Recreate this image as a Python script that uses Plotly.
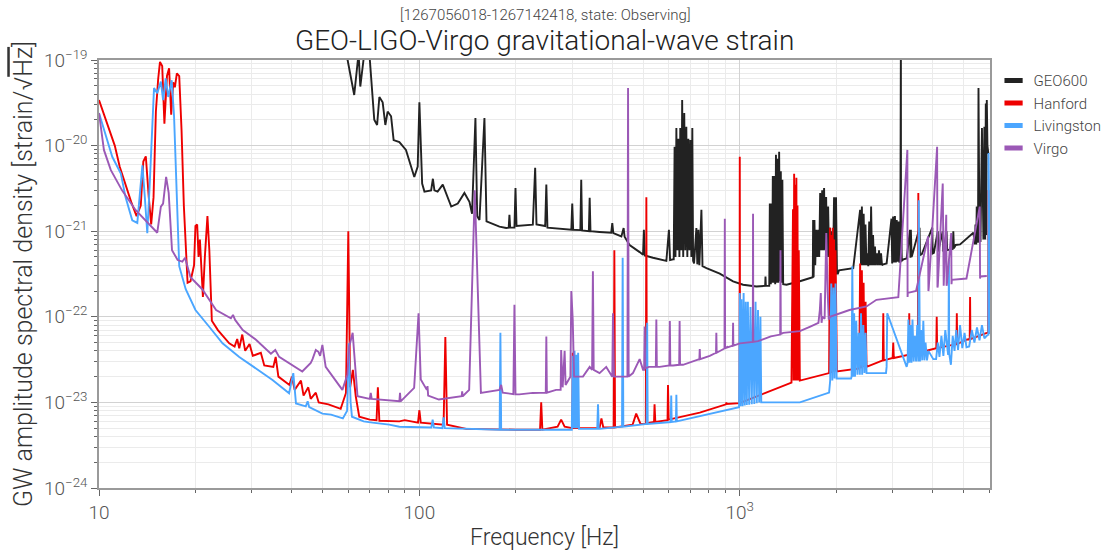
import plotly.graph_objects as go

# ---------------- data ----------------
detectors = ["GEO600", "Hanford", "Livingston", "Virgo"]
colors = ["#222222", "#ee0000", "#4ba6ff", "#9b59b6"]

geo_f = [55, 59.7, 62.6, 64.6, 65.4, 67.3, 69.8, 72.3, 73.8, 75, 76.8, 78.3, 79.6, 81.6, 83.1, 86.6,
         90.8, 94.1, 96.4, 98.8, 100, 102, 103.7, 108.8, 110.2, 111.4, 114, 118.3, 125.7, 131.8, 138.2,
         143.3, 146, 149.6, 151.5, 154, 159.6, 162, 177.8, 186.6, 190, 191, 192, 198, 199.5, 201, 226,
         229.8, 232, 247, 249, 251, 287, 298, 300, 302, 318, 320, 322, 338, 340, 342, 365, 397, 400, 403,
         427, 434, 437, 453, 487, 499, 502, 505, 536, 590, 601, 606, 619,
         622, 626, 630, 634, 639, 643, 648, 652, 657, 661, 666, 671, 676, 681, 686, 691, 696, 701, 706, 711, 715,
         720, 732, 737, 743, 748, 759, 765, 787, 866, 953, 1024, 1127, 1200, 1203, 1206, 1236,
         1241, 1250, 1255, 1262, 1268, 1275, 1282, 1290, 1297, 1305, 1312, 1320, 1327, 1335, 1343, 1350, 1358, 1366,
         1399, 1540, 1690, 1694, 1700, 1710, 1720, 1732, 1745, 1757, 1770, 1782, 1795, 1808, 1820, 1833,
         1846, 1860, 1873, 1887, 1900, 1913, 1927, 1941, 1955, 1969, 1983, 1997, 2011, 2025, 2040,
         2260, 2375, 2390, 2405, 2420, 2436, 2452, 2468, 2485, 2500, 2518, 2535, 2553, 2570, 2588, 2606,
         2624, 2642, 2660, 2680, 2700, 2720, 2740, 2760, 2780, 2805, 2873,
         2975, 2990, 3010, 3030, 3050, 3070, 3090, 3110, 3130, 3150, 3170, 3183, 3186, 3189, 3205, 3225, 3240,
         3318, 3400, 3410, 3420, 3438, 3450, 3640, 3652, 3664, 3700, 3990, 4000, 4018, 4035,
         4150, 4160, 4300, 4315, 4330, 4420, 4440, 4620, 4640, 4660, 4700, 4720, 4870,
         5358, 5420, 5440, 5470, 5490, 5510, 5540, 5560, 5600, 5623, 5640, 5700, 5760, 5800, 5833,
         5860, 5880, 5902, 5930, 5970, 6000, 6040]
geo_asd = [2e-19, 1e-19, 3.9e-20, 1.2e-19, 4.9e-20, 1.2e-19, 1.2e-19, 2.0e-20, 1.74e-20, 3.7e-20, 3.2e-20,
           1.74e-20, 2.5e-20, 2.2e-20, 1.16e-20, 1.1e-20, 8.9e-21, 5.7e-21, 4.3e-21, 5.7e-21, 3.2e-20, 3.6e-21,
           2.9e-21, 3.0e-21, 4.1e-21, 3.0e-21, 2.9e-21, 3.5e-21, 1.94e-21, 2.1e-21, 2.8e-21, 2.2e-21, 1.6e-21,
           2.1e-20, 1.5e-21, 1.35e-21, 2.1e-20, 1.3e-21, 1.13e-21, 1.09e-21, 1.1e-21, 1.55e-21, 1.1e-21,
           1.1e-21, 3.2e-21, 1.15e-21, 1.19e-21, 5.5e-21, 1.2e-21, 1.15e-21, 3.5e-21, 1.1e-21, 1.04e-21,
           1.04e-21, 2.1e-21, 1.04e-21, 1.03e-21, 4.0e-21, 1.02e-21, 1.0e-21, 2.45e-21, 1.0e-21, 9.8e-22,
           9.6e-22, 1.24e-21, 9.5e-22, 8.7e-22, 1.09e-21, 8.6e-22, 6.9e-22, 5.7e-22, 5.3e-22, 1.04e-21,
           5.2e-22, 4.9e-22, 4.5e-22, 1.04e-21, 4.6e-22, 4.7e-22,
           4.7e-22, 9.7e-21, 5e-22, 1.6e-20, 6e-22, 1.2e-20, 5e-22, 1.6e-20, 6e-22, 3.4e-20, 5e-22, 2.4e-20,
           6e-22, 1.66e-20, 5e-22, 1.2e-20, 6e-22, 1.16e-20, 5e-22, 1.6e-20, 4.5e-22,
           4.2e-22, 1.09e-21, 4.1e-22, 1.04e-21, 4e-22, 1.78e-21, 3.9e-22, 3.7e-22, 3.2e-22, 2.6e-22,
           2.37e-22, 2.26e-22, 2.3e-22, 2.95e-22, 2.3e-22, 2.3e-22,
           2.1e-21, 2.4e-22, 2.1e-21, 2.5e-22, 4.4e-21, 2.5e-22, 4.4e-21, 2.4e-22, 7.8e-21, 2.5e-22, 7.0e-21,
           2.5e-22, 8.5e-21, 2.6e-22, 5.0e-21, 2.5e-22, 4.0e-21, 2.4e-22,
           2.37e-22, 2.6e-22, 2.9e-22, 1.35e-21, 2.9e-22, 1.35e-21, 4e-22, 1.04e-21, 5e-22, 1.04e-21, 5e-22,
           2.8e-21, 6e-22, 3.0e-21, 6e-22, 3.2e-21, 6e-22, 2.5e-21, 5e-22, 1.94e-21, 5e-22, 1.1e-21, 5e-22,
           1.0e-21, 4e-22, 2.5e-21, 3.5e-22, 2.5e-21, 3.2e-22, 3.2e-22,
           3.5e-22, 3.7e-22, 1.78e-21, 4e-22, 1.94e-21, 4e-22, 1.6e-21, 4e-22, 1.2e-21, 4e-22, 5.5e-22, 3.9e-22,
           1.3e-21, 4e-22, 1.94e-21, 4e-22, 9e-22, 4e-22, 6.6e-22, 4e-22, 5.5e-22, 4e-22, 6e-22, 4e-22,
           5.5e-22, 4e-22, 4.1e-22,
           4.2e-22, 1.4e-21, 4.2e-22, 1.48e-21, 4.3e-22, 1.5e-21, 4.3e-22, 1.35e-21, 4.4e-22, 1.3e-21, 4.4e-22,
           4.4e-22, 2e-19, 4.4e-22, 1.2e-21, 4.5e-22, 4.6e-22,
           4.7e-22, 4.8e-22, 1.04e-21, 4.9e-22, 1.04e-21, 5e-22, 5.2e-22, 1.1e-21, 5.2e-22, 5.3e-22, 5.4e-22,
           1.1e-21, 5.5e-22, 5.5e-22, 5.6e-22, 1.0e-21, 5.8e-22, 1.0e-21, 5.8e-22, 5.9e-22, 1.0e-21, 6e-22,
           6.2e-22, 1.0e-21, 6.3e-22, 6.6e-22,
           6.9e-22, 7e-22, 9.6e-22, 7e-22, 1.2e-21, 7e-22, 1.94e-21, 7.5e-22, 7.5e-22, 4.7e-20, 7.5e-22,
           1.0e-21, 7.5e-22, 1.6e-20, 8e-22, 1.66e-20, 8e-22, 3.1e-20, 9e-22, 3.4e-20, 1e-20, 8e-21]

han_f = [10.0, 10.4, 10.8, 11.2, 11.6, 12.1, 12.6, 13.1, 13.5, 13.75, 14.0, 14.3, 14.55, 14.8, 15.05,
         15.3, 15.5, 15.75, 16.0, 16.3, 16.55, 16.8, 17.05, 17.25, 17.5, 17.8, 18.1, 18.4, 18.9, 19.3,
         19.8, 20.0, 20.25, 20.45, 20.65, 20.85, 21.1, 21.4, 21.8, 22.1, 22.5, 23.5, 25.5, 26.5, 27.0,
         27.4, 28.0, 28.6, 29.5, 30.2, 32.0, 32.8, 35.0, 35.6, 36.3, 39.3, 40.0, 40.8, 42.2, 42.7, 43.5,
         45.0, 45.8, 47.5, 48.5, 52, 56.8, 59.0, 60.0, 60.8, 62.0, 63.3, 64.9, 70, 73.5, 74.2, 75, 80.5,
         86.6, 90, 99, 100, 101, 119, 120.5, 122, 140, 200, 238, 240, 242, 270, 277, 284, 300, 301, 303,
         340, 365, 370, 375, 404, 406, 408, 463, 475, 490, 509, 511, 513, 540, 542, 545, 595, 597, 600,
         750, 906, 908, 910, 998, 1000, 1002, 1450,
         1466, 1472, 1478, 1484, 1490, 1496, 1502, 1508, 1514, 1520, 1528, 1540,
         1900, 1911, 1920, 1930, 1940, 1950, 1960, 1970, 1980, 1990, 2000, 2010,
         2360, 2375, 2390, 2405, 2420, 2435, 2450, 2470, 2487,
         2795, 2805, 2815, 3000, 3013, 3026, 3370, 3380, 3390, 3595, 3608, 3620, 4018,
         4105, 4118, 4131, 4745, 4758, 4771, 5100, 5220, 5234, 5248, 5902, 5960, 5975, 6040]
han_asd = [3.4e-20, 2.2e-20, 1.5e-20, 1.0e-20, 5.7e-21, 3.5e-21, 2.2e-21, 1.5e-21, 2.0e-21, 6.5e-21,
           7.5e-21, 2.5e-21, 1.2e-21, 2.5e-21, 2.5e-20, 6e-20, 9.5e-20, 8.5e-20, 1.8e-20, 6.5e-20, 8e-20,
           2.3e-20, 5.5e-20, 4.8e-20, 7e-20, 6.5e-20, 1.5e-20, 2e-21, 2.5e-22, 2.6e-22, 4e-22, 1.15e-21,
           1.2e-21, 5e-22, 8e-22, 4e-22, 1.7e-22, 5e-22, 1.5e-21, 6e-22, 9e-23, 7e-23, 4.9e-23, 4.5e-23,
           5.5e-23, 4.3e-23, 6.2e-23, 4.0e-23, 4.8e-23, 3.5e-23, 3.8e-23, 2.7e-23, 2.6e-23, 3.4e-23, 2.0e-23,
           1.6e-23, 2.0e-23, 1.4e-23, 1.7e-23, 1.8e-23, 1.2e-23, 1.5e-23, 1.1e-23, 1.3e-23, 1.0e-23, 9.5e-24,
           8.4e-24, 1.29e-23, 1.0e-21, 1.5e-23, 2.4e-23, 1.18e-23, 6.8e-24, 6.3e-24, 6.2e-24, 1.5e-23,
           6.1e-24, 6.0e-24, 6.0e-24, 6.2e-24, 5.8e-24, 8.1e-24, 5.8e-24, 5.5e-24, 5.8e-23, 5.5e-24, 4.9e-24,
           4.8e-24, 4.8e-24, 1.0e-23, 4.8e-24, 5.2e-24, 6.3e-24, 5.2e-24, 5.0e-24, 3.8e-23, 5.0e-24, 5.0e-24,
           5.0e-24, 6.5e-24, 5.1e-24, 5.1e-24, 6e-22, 5.1e-24, 5.5e-24, 7.4e-24, 5.6e-24, 5.6e-24, 2.5e-21,
           5.7e-24, 5.9e-24, 9.5e-24, 5.9e-24, 6.2e-24, 1.6e-23, 6.3e-24, 7.6e-24, 9.5e-24, 1.0e-23, 9.6e-24,
           9.8e-24, 7.4e-21, 9.9e-24, 1.7e-23,
           1.8e-21, 1.8e-23, 4.7e-21, 1.8e-23, 3.5e-21, 1.8e-23, 4.2e-21, 1.8e-23, 2.0e-21, 1.8e-23, 6e-22, 1.8e-23,
           2.2e-23, 1.1e-21, 2.2e-23, 9e-22, 2.2e-23, 1.1e-21, 2.3e-23, 8e-22, 2.3e-23, 6e-22, 2.3e-23, 2.3e-23,
           2.5e-23, 4.2e-22, 2.5e-23, 3.5e-22, 2.6e-23, 2.5e-22, 2.6e-23, 1.5e-22, 2.6e-23,
           3.1e-23, 1.1e-22, 3.1e-23, 3.3e-23, 5e-23, 3.3e-23, 3.6e-23, 1.1e-22, 3.6e-23, 3.8e-23, 2.8e-21,
           3.8e-23, 4.2e-23, 4.3e-23, 1.0e-22, 4.3e-23, 4.8e-23, 1.1e-22, 4.8e-23, 5.4e-23, 5.5e-23, 1.7e-22,
           5.5e-23, 6.5e-23, 6.6e-23, 3e-21, 6.6e-23, 6.6e-23]

liv_f = [10.0, 10.5, 11.0, 11.7, 12.1, 12.7, 13.17, 13.5, 13.66, 13.9, 14.15, 14.4, 14.85, 15.2, 15.6,
         15.85, 16.15, 16.45, 16.86, 17.15, 17.44, 17.8, 18.65, 20.0, 22.05, 24.3, 27.4, 30.9, 34.8, 39.2,
         40.4, 41.2, 44.2, 44.8, 45.3, 49.8, 53.0, 57.7, 59.5, 60.2, 61.0, 61.6, 67.0, 71.4, 80.5, 86.6,
         109, 110, 111, 118, 119, 120, 140, 178, 179, 180, 226, 299, 301, 303, 305, 307, 309, 311, 313,
         315, 318, 359, 361, 363, 365, 429, 431, 433, 512, 514, 516, 590, 609, 611, 613, 632, 634, 636,
         953, 995, 1000, 1005, 1012, 1020, 1028, 1036, 1044, 1052, 1060, 1070, 1080, 1090, 1100, 1110,
         1120, 1130, 1140, 1150, 1160, 1167, 1540, 1900, 1915, 1930, 1945, 1960, 1975, 1990, 2006,
         2225, 2234, 2245, 2260, 2275, 2290, 2310, 2330, 2350, 2370, 2390, 2410, 2430, 2450, 2470, 2487,
         2860, 2873, 2886, 3318, 3340, 3360, 3385, 3410, 3435, 3460, 3490, 3520, 3550, 3580, 3597, 3608,
         3620, 3650, 3680, 3710, 3740, 3770, 3800, 3840, 3880, 4018, 4100, 4150, 4200, 4260, 4320, 4380,
         4470, 4480, 4495, 4505, 4560, 4620, 4680, 4740, 4800, 4870, 4950, 5030, 5100, 5200, 5300, 5400,
         5500, 5600, 5700, 5800, 5900, 5960, 5970, 5980, 6040]
liv_asd = [2.4e-20, 1.3e-20, 7.4e-21, 4.7e-21, 2.5e-21, 1.34e-21, 1.25e-21, 3.6e-21, 5.9e-21, 2.5e-21,
           9.5e-22, 3.6e-21, 4.7e-20, 4.1e-20, 5.6e-20, 3.4e-20, 6.1e-20, 3.7e-20, 5.8e-20, 2.2e-20, 3.7e-21,
           3.9e-22, 2.1e-22, 1.2e-22, 7.7e-23, 4.9e-23, 3.4e-23, 2.5e-23, 1.83e-23, 1.28e-23, 2.2e-23, 9.7e-24,
           9.0e-24, 1.03e-23, 8.8e-24, 7.4e-24, 7.2e-24, 6.5e-24, 8e-24, 4.9e-23, 1.0e-23, 6.8e-24, 6.0e-24,
           5.8e-24, 5.5e-24, 5.2e-24, 5.1e-24, 6.3e-24, 5.1e-24, 5.0e-24, 6.7e-24, 5.0e-24, 4.9e-24, 4.8e-24,
           6.5e-23, 4.8e-24, 4.8e-24, 4.8e-24, 3.5e-23, 5e-24, 4.0e-23, 5e-24, 3.6e-23, 5e-24, 3.8e-23, 4.9e-24,
           4.9e-24, 4.9e-24, 9.5e-24, 4.9e-24, 4.9e-24, 5.2e-24, 4.9e-22, 5.2e-24, 5.6e-24, 8.5e-23, 5.6e-24,
           5.8e-24, 5.9e-24, 1.2e-23, 5.9e-24, 6.0e-24, 1.23e-23, 6.0e-24, 8.6e-24, 8.8e-24, 1.9e-22, 9e-24,
           1.6e-22, 9e-24, 1.9e-22, 9.2e-24, 1.5e-22, 9.3e-24, 1.5e-22, 9.4e-24, 1.3e-22, 9.5e-24, 1.2e-22,
           9.6e-24, 1.5e-22, 9.8e-24, 1.2e-22, 1.0e-23, 1.0e-22, 1.0e-23, 1.0e-23, 1.3e-23, 1.8e-23, 2.45e-22,
           1.8e-23, 2.2e-22, 1.9e-23, 2.45e-22, 1.9e-23, 1.9e-23, 2.0e-23, 3.9e-22, 2.0e-23, 1.1e-22, 2.0e-23,
           9e-23, 2.1e-23, 6.5e-23, 2.1e-23, 1.1e-22, 2.1e-23, 8e-23, 2.2e-23, 6.5e-23, 2.2e-23, 2.2e-23,
           2.6e-23, 1.1e-22, 2.6e-23, 2.9e-23, 9.3e-23, 2.9e-23, 8e-23, 2.9e-23, 9.3e-23, 3.0e-23, 6e-23,
           3.0e-23, 8e-23, 3.0e-23, 3.0e-23, 2.3e-21, 3.0e-23, 7e-23, 3.1e-23, 9e-23, 3.1e-23, 5e-23, 3.1e-23,
           4e-23, 3.2e-23, 3.2e-23, 5e-23, 3.4e-23, 6e-23, 3.5e-23, 7e-23, 3.6e-23, 3.7e-23, 4.6e-22, 3.7e-23,
           2.75e-23, 6e-23, 4e-23, 7e-23, 4.1e-23, 8e-23, 4.3e-23, 6.5e-23, 4.4e-23, 4.5e-23, 7e-23, 5e-23,
           7.5e-23, 5.3e-23, 8e-23, 5.6e-23, 6e-23, 6.1e-23, 6.2e-23, 8.2e-21, 6.3e-23, 6.3e-23]

vir_f = [10.0, 10.36, 10.88, 11.8, 13.0, 14.3, 15.2, 15.6, 15.85, 16.2, 16.5, 16.9, 17.6, 18.2, 18.56,
         19.3, 21.0, 23.2, 25.8, 26.2, 26.6, 28.1, 30.9, 34.4, 35.5, 36.5, 39.2, 43.1, 45.8, 46.4, 47.5,
         48.4, 49.0, 49.8, 51.0, 57.5, 59.6, 60.4, 61.9, 63.0, 64.1, 70.0, 70.5, 71.0, 74.9, 86.6, 87.0,
         87.4, 96.3, 99.4, 101.0, 105.5, 106, 106.5, 115, 135.5, 136, 136.5, 143, 148.9, 155.6, 177.8, 180,
         182, 196.5, 198, 199.5, 205, 226, 248, 249, 250, 267, 276, 277, 280, 284, 286, 296, 298, 301, 304,
         324, 340, 346, 348, 350, 365, 383, 400, 402, 405, 412, 446, 448, 450, 464, 487, 499, 503, 505, 507,
         520, 547, 549, 551, 562, 603, 605, 607, 619, 647, 649, 651, 665, 748, 750, 752, 806, 843, 845, 847,
         920, 896, 898, 900, 951, 953, 955, 1000, 1098, 1100, 1102, 1140, 1250, 1337, 1340, 1343, 1366, 1540,
         1660, 1760, 1778, 1790, 1800, 1810, 1840, 1862, 1880, 1895, 1911, 2050, 2200, 2487, 2670, 3125,
         3335, 3340, 3345, 3550, 3870, 3880, 3890, 4130, 4140, 4150, 4300, 4315, 4330, 4410, 4420, 4430,
         4570, 4580, 4590, 5100, 5610, 5623, 5636, 5902, 6040]
vir_asd = [2.4e-20, 8.9e-21, 5.2e-21, 3.0e-21, 1.77e-21, 1.23e-21, 9.6e-22, 1.94e-21, 2.1e-21, 4.3e-21,
           2.8e-21, 6e-22, 4.6e-22, 4.4e-22, 4.9e-22, 2.9e-22, 2.1e-22, 1.2e-22, 9.6e-23, 1.05e-22, 9.2e-23,
           7.0e-23, 5.4e-23, 3.7e-23, 4.1e-23, 3.4e-23, 2.85e-23, 2.3e-23, 2.9e-23, 3.2e-23, 4.1e-23, 3.9e-23,
           3.5e-23, 4.7e-23, 2.6e-23, 1.4e-23, 2.1e-23, 4.5e-23, 6.5e-23, 2.5e-23, 1.18e-23, 1.1e-23, 1.29e-23,
           1.1e-23, 1.08e-23, 1.03e-23, 1.29e-23, 1.03e-23, 1.48e-23, 1.1e-22, 1.85e-23, 1.4e-23, 1.55e-23,
           1.2e-23, 1.08e-23, 1.18e-23, 1.35e-23, 1.18e-23, 1.4e-23, 3.0e-21, 1.29e-23, 1.4e-23, 1.6e-23,
           1.3e-23, 1.25e-23, 1.38e-22, 1.24e-23, 1.24e-23, 1.29e-23, 1.3e-23, 5.9e-23, 1.3e-23, 1.4e-23,
           1.4e-23, 4.1e-23, 1.5e-23, 4.0e-23, 1.6e-23, 2.0e-23, 2.0e-22, 9.3e-23, 2.0e-23, 2.0e-23, 2.6e-23,
           2.4e-23, 3.4e-22, 2.4e-23, 2.2e-23, 2.6e-23, 2.0e-23, 1.1e-22, 2.0e-23, 2.0e-23, 2.0e-23, 4.7e-20,
           2.0e-23, 2.2e-23, 3.2e-23, 2.4e-23, 2.4e-23, 7.7e-23, 2.5e-23, 2.6e-23, 2.6e-23, 9.3e-23, 2.6e-23,
           2.6e-23, 2.7e-23, 8.9e-23, 2.7e-23, 2.7e-23, 2.75e-23, 8.9e-23, 2.75e-23, 2.75e-23, 3.2e-23, 4.2e-23,
           3.2e-23, 3.5e-23, 3.8e-23, 6.5e-23, 3.8e-23, 4.5e-23, 4.3e-23, 1.4e-21, 4.3e-23, 4.6e-23, 8.5e-23,
           4.6e-23, 4.9e-23, 5.1e-23, 1.6e-21, 5.1e-23, 5.2e-23, 5.9e-23, 6.2e-23, 6e-22, 6.3e-23, 6.5e-23,
           6.8e-23, 7.7e-23, 8.5e-23, 1.2e-22, 1.9e-22, 8.5e-23, 1.0e-22, 9.5e-23, 9.5e-22, 2.0e-22, 9.3e-23,
           1.0e-22, 1.1e-22, 1.2e-22, 1.32e-22, 1.58e-22, 1.7e-22, 8.9e-21, 1.7e-22, 1.9e-22, 2.0e-22, 8.7e-22,
           2.0e-22, 2.2e-22, 9.7e-21, 2.2e-22, 2.3e-22, 3.6e-21, 2.3e-22, 2.3e-22, 1.56e-21, 2.3e-22, 2.4e-22,
           9.5e-22, 2.4e-22, 2.7e-22, 2.8e-22, 1.94e-21, 2.8e-22, 2.96e-22, 3.0e-22]

series_f = [geo_f, han_f, liv_f, vir_f]
series_asd = [geo_asd, han_asd, liv_asd, vir_asd]

x_major = [10, 100, 1000]
x_major_text = ["10", "100", "10<sup>3</sup>"]
x_minor = [20, 30, 40, 50, 60, 70, 80, 90, 200, 300, 400, 500, 600, 700, 800, 900,
           2000, 3000, 4000, 5000, 6000]
y_major = [1e-24, 1e-23, 1e-22, 1e-21, 1e-20, 1e-19]
y_major_text = ["10<sup>\u221224</sup>", "10<sup>\u221223</sup>", "10<sup>\u221222</sup>",
                "10<sup>\u221221</sup>", "10<sup>\u221220</sup>", "10<sup>\u221219</sup>"]
y_minor = [m * 10.0 ** e for e in range(-24, -19) for m in range(2, 10)]

title_text = "GEO-LIGO-Virgo gravitational-wave strain"
subtitle_text = "[1267056018-1267142418, state: Observing]"
x_title = "Frequency [Hz]"
y_title = "GW amplitude spectral density [strain/\u221a<span style=\"text-decoration:overline\">Hz</span>]"

# ---------------- figure ----------------
FONT = "Roboto"
fig = go.Figure()
for name, c, fx, fy in zip(detectors, colors, series_f, series_asd):
    fig.add_trace(go.Scatter(x=fx, y=fy, mode="lines", name=name, showlegend=False,
                             line=dict(color=c, width=1.9), hoverinfo="skip"))
for name, c in zip(detectors, colors):
    fig.add_trace(go.Scatter(x=[None], y=[None], mode="markers", name=name,
                             marker=dict(symbol="line-ew", size=13, color=c,
                                         line=dict(color=c, width=6))))

axis_common = dict(type="log", showline=True, mirror=True, linecolor="#9a9a9a", linewidth=1.5,
                   ticks="outside", ticklen=6, tickwidth=1, tickcolor="#666", automargin=False,
                   showgrid=True, gridcolor="#d2d2d2", gridwidth=1, zeroline=False,
                   tickfont=dict(family=FONT, size=19, color="#555", weight=300))

fig.update_xaxes(**axis_common, range=[1, 3.781], tickmode="array", tickvals=x_major,
                 ticktext=x_major_text,
                 minor=dict(tickmode="array", tickvals=x_minor, ticks="outside", ticklen=3,
                            tickcolor="#666", showgrid=True, gridcolor="#ebebeb", gridwidth=1),
                 title=dict(text=x_title, font=dict(family=FONT, size=23, color="#333", weight=300),
                            standoff=6))
fig.update_yaxes(**axis_common, range=[-24, -19], tickmode="array", tickvals=y_major,
                 ticktext=y_major_text,
                 minor=dict(tickmode="array", tickvals=y_minor, ticks="outside", ticklen=3,
                            tickcolor="#666", showgrid=True, gridcolor="#ebebeb", gridwidth=1),
                 title=dict(text=y_title, font=dict(family=FONT, size=25, color="#333", weight=300),
                            standoff=4))

fig.update_layout(
    width=1105, height=551,
    margin=dict(l=99, r=115, t=60, b=63, autoexpand=False),
    paper_bgcolor="white", plot_bgcolor="white",
    font=dict(family=FONT, color="#333", weight=300),
    showlegend=True,
    legend=dict(x=1.004, xanchor="left", y=0.99, yanchor="top", bgcolor="rgba(0,0,0,0)",
                font=dict(family=FONT, size=15, color="#444", weight=300), itemwidth=30),
    annotations=[
        dict(text=title_text, xref="paper", yref="paper", x=0.5, y=1, xanchor="center",
             yanchor="bottom", yshift=1, showarrow=False,
             font=dict(family=FONT, size=28, color="#222", weight=300)),
        dict(text=subtitle_text, xref="paper", yref="paper", x=0.5, y=1, xanchor="center",
             yanchor="bottom", yshift=34, showarrow=False,
             font=dict(family=FONT, size=15, color="#444", weight=300)),
    ],
)

fig.write_html("out.html", config={"displayModeBar": False},
               post_script="document.body.style.margin='0';")
